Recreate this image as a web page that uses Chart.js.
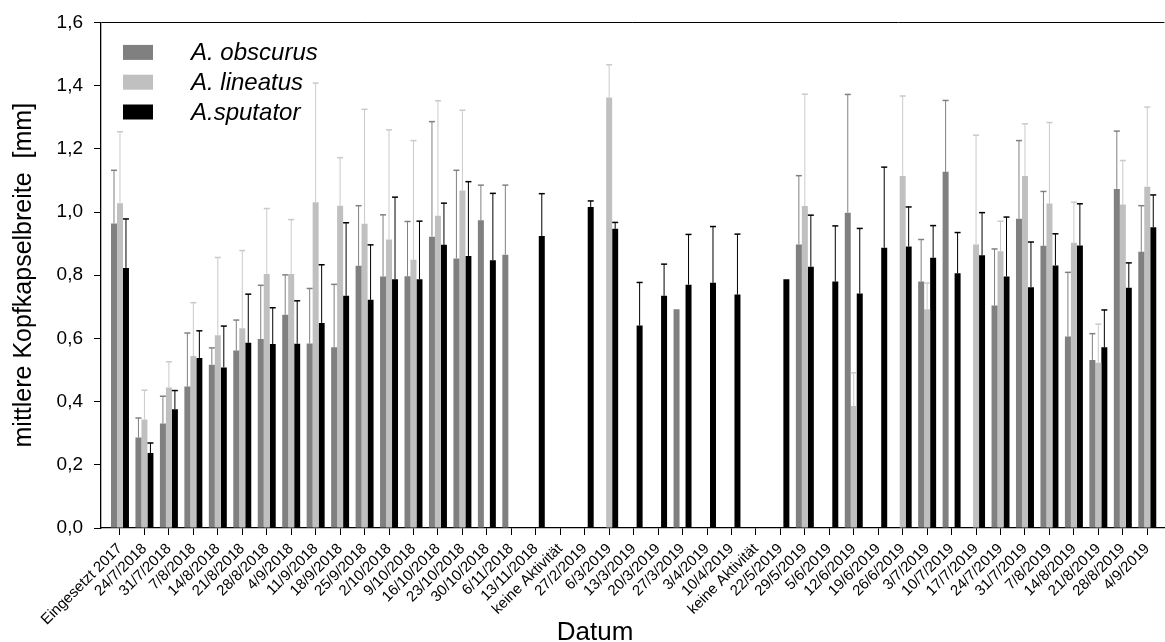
<!DOCTYPE html>
<html>
<head>
<meta charset="utf-8">
<script src="https://cdn.jsdelivr.net/npm/chart.js@4.4.1/dist/chart.umd.min.js"></script>
<style>
html, body { margin:0; padding:0; background:#fff; }
#wrap { width:1165px; height:642px; }
</style>
</head>
<body>
<div id="wrap"><canvas id="myChart" width="1165" height="642"></canvas></div>
<script>
var labels = ['Eingesetzt 2017','24/7/2018','31/7/2018','7/8/2018','14/8/2018','21/8/2018','28/8/2018','4/9/2018',
    '11/9/2018','18/9/2018','25/9/2018','2/10/2018','9/10/2018','16/10/2018','23/10/2018','30/10/2018','6/11/2018',
    '13/11/2018','keine Aktivität','27/2/2019','6/3/2019','13/3/2019','20/3/2019','27/3/2019','3/4/2019','10/4/2019',
    'keine Aktivität','22/5/2019','29/5/2019','5/6/2019','12/6/2019','19/6/2019','26/6/2019','3/7/2019','10/7/2019',
    '17/7/2019','24/7/2019','31/7/2019','7/8/2019','14/8/2019','21/8/2019','28/8/2019','4/9/2019'];

// mittelwerte
var obscurus = [0.964,0.286,0.331,0.448,0.517,0.562,0.598,0.675,0.584,0.572,0.830,0.796,0.797,0.922,0.853,0.974,0.865,
    null,null,null,null,null,null,0.692,null,null,null,null,0.897,null,0.998,null,null,0.780,1.127,
    null,0.704,0.979,0.893,0.606,0.532,1.073,0.874];
var lineatus = [1.028,0.343,0.445,0.544,0.610,0.632,0.804,0.804,1.031,1.020,0.963,0.913,0.849,0.988,1.068,null,null,
    null,null,null,1.362,null,null,null,null,null,null,null,1.019,null,0.386,null,1.114,0.692,null,
    0.897,0.876,1.114,1.027,0.903,0.523,1.024,1.080];
var sputator = [0.823,0.237,0.376,0.538,0.508,0.586,0.582,0.583,0.649,0.735,0.722,0.787,0.787,0.896,0.861,0.847,null,
    0.924,null,1.016,0.947,0.641,0.735,0.770,0.776,0.739,null,0.787,0.827,0.780,0.742,0.887,0.891,0.855,0.806,
    0.863,0.796,0.762,0.831,0.894,0.572,0.760,0.952];

// standardabweichung (nur nach oben)
var obscurusSd = [0.168,0.062,0.086,0.169,0.053,0.096,0.170,0.126,0.174,0.199,0.190,0.195,0.173,0.364,0.279,0.111,0.220,
    0,0,0,0,0,0,0,0,0,0,0,0.218,0,0.374,0,0,0.133,0.226,
    0,0.179,0.247,0.172,0.203,0.083,0.183,0.146];
var lineatusSd = [0.226,0.093,0.081,0.169,0.246,0.246,0.207,0.172,0.377,0.152,0.362,0.347,0.377,0.364,0.254,0,0,
    0,0,0,0.104,0,0,0,0,0,0,0,0.354,0,0.105,0,0.253,0.083,0,
    0.346,0.095,0.165,0.256,0.128,0.122,0.139,0.252];
var sputatorSd = [0.155,0.032,0.059,0.086,0.131,0.154,0.115,0.136,0.184,0.231,0.174,0.260,0.184,0.132,0.235,0.212,0,
    0.134,0,0.019,0.020,0.136,0.100,0.159,0.178,0.191,0,0,0.163,0.176,0.206,0.255,0.125,0.102,0.129,
    0.135,0.188,0.143,0.100,0.132,0.118,0.079,0.102];

var yTicks = [0,0.2,0.4,0.6,0.8,1.0,1.2,1.4,1.6];

var fontName = "'Liberation Sans', Arial, sans-serif";

function toPoints(arr) {
    return arr.map(function(v, i) { return {x: i, y: v}; });
}

// fehlerbalken
var errorBars = {
    id: 'errorBars',
    afterDatasetsDraw: function(chart) {
        var ctx = chart.ctx;
        var yScale = chart.scales.y;
        chart.data.datasets.forEach(function(ds, i) {
            var meta = chart.getDatasetMeta(i);
            meta.data.forEach(function(bar, j) {
                var v = ds.data[j].y;
                var sd = ds.sd[j];
                if (v == null || !sd) return;
                var top = yScale.getPixelForValue(v + sd);
                ctx.save();
                ctx.strokeStyle = ds.errColor;
                ctx.lineWidth = 1;
                ctx.beginPath();
                ctx.moveTo(bar.x, bar.y);
                ctx.lineTo(bar.x, top);
                ctx.stroke();
                ctx.lineWidth = 1.5;
                ctx.beginPath();
                ctx.moveTo(bar.x - 3, top);
                ctx.lineTo(bar.x + 3, top);
                ctx.stroke();
                ctx.restore();
            });
        });
    }
};

// legende im diagramm + achsentitel unten
var extras = {
    id: 'extras',
    afterDraw: function(chart) {
        var ctx = chart.ctx;
        var area = chart.chartArea;
        ctx.save();
        chart.data.datasets.forEach(function(ds, i) {
            var cy = area.top + 30 + i * 29.8;
            ctx.fillStyle = ds.backgroundColor;
            ctx.fillRect(area.left + 22, cy - 7.5, 30, 15);
            ctx.fillStyle = '#000';
            ctx.font = 'italic 24px ' + fontName;
            ctx.textAlign = 'left';
            ctx.textBaseline = 'middle';
            ctx.fillText(ds.label, area.left + 90, cy + 1);
        });
        ctx.font = '26px ' + fontName;
        ctx.textAlign = 'center';
        ctx.textBaseline = 'alphabetic';
        ctx.fillStyle = '#000';
        ctx.fillText('Datum', 595, 640);
        ctx.restore();
    }
};

var ctx = document.getElementById('myChart');

var myChart = new Chart(ctx, {
    type: 'bar',
    data: {
        datasets: [{
            label: 'A. obscurus',
            data: toPoints(obscurus),
            sd: obscurusSd,
            backgroundColor: '#808080',
            errColor: '#808080'
        }, {
            label: 'A. lineatus',
            data: toPoints(lineatus),
            sd: lineatusSd,
            backgroundColor: '#c0c0c0',
            errColor: '#cacaca'
        }, {
            label: 'A.sputator',
            data: toPoints(sputator),
            sd: sputatorSd,
            backgroundColor: '#000000',
            errColor: '#000000'
        }]
    },
    options: {
        responsive: false,
        animation: false,
        devicePixelRatio: 1,
        categoryPercentage: 0.735,
        barPercentage: 1.0,
        layout: { padding: { top: 20, right: 0, bottom: 0, left: 0 } },
        plugins: {
            legend: { display: false },
            tooltip: { enabled: false }
        },
        scales: {
            x: {
                type: 'linear',
                offset: false,
                bounds: 'data',
                min: -0.776,
                max: 42.7,
                afterBuildTicks: function(scale) {
                    scale.ticks = labels.map(function(l, i) { return {value: i}; });
                },
                afterFit: function(scale) { scale.height = 114; },
                grid: {
                    display: true,
                    offset: false,
                    drawOnChartArea: false,
                    drawTicks: true,
                    tickLength: 7,
                    color: '#000'
                },
                border: { color: '#000', width: 1.3 },
                ticks: {
                    autoSkip: false,
                    maxRotation: 45,
                    minRotation: 45,
                    padding: 5,
                    color: '#000',
                    font: { family: fontName, size: 15 },
                    callback: function(v) { return labels[v]; }
                }
            },
            y: {
                min: 0,
                max: 1.6,
                afterBuildTicks: function(scale) {
                    scale.ticks = yTicks.map(function(v) { return {value: v}; });
                },
                afterFit: function(scale) { scale.width = 101; },
                grid: {
                    display: true,
                    drawOnChartArea: true,
                    drawTicks: true,
                    tickLength: 7,
                    tickColor: '#000',
                    color: function(c) {
                        return (c.tick && c.tick.value > 1.59) ? '#000' : 'rgba(0,0,0,0)';
                    }
                },
                border: { color: '#000', width: 1.3 },
                ticks: {
                    padding: 11,
                    color: '#000',
                    font: { family: fontName, size: 19 },
                    callback: function(v) { return v.toFixed(1).replace('.', ','); }
                },
                title: {
                    display: true,
                    text: 'mittlere Kopfkapselbreite  [mm]',
                    color: '#000',
                    font: { family: fontName, size: 25 },
                    padding: { top: 9, bottom: 0 }
                }
            }
        }
    },
    plugins: [errorBars, extras]
});
</script>
</body>
</html>
